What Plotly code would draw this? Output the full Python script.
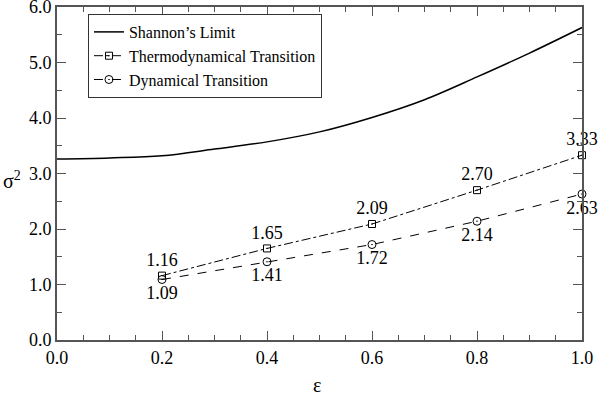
import plotly.graph_objects as go

# Shannon's limit
eps_shannon = [0.0, 0.1, 0.2, 0.3, 0.4, 0.5, 0.6, 0.7, 0.8, 0.9, 1.0]
sigma2_shannon = [3.26, 3.28, 3.32, 3.44, 3.57, 3.75, 4.01, 4.33, 4.74, 5.17, 5.63]

# transitions
eps_pts = [0.2, 0.4, 0.6, 0.8, 1.0]
sigma2_thermo = [1.16, 1.65, 2.09, 2.70, 3.33]
sigma2_dyn = [1.09, 1.41, 1.72, 2.14, 2.63]

serif = "Liberation Serif, Times New Roman, serif"

fig = go.Figure()
fig.add_trace(go.Scatter(
    x=eps_shannon, y=sigma2_shannon, mode="lines", name="Shannon’s Limit",
    line=dict(color="black", width=1.5, shape="spline"),
))
fig.add_trace(go.Scatter(
    x=eps_pts, y=sigma2_thermo, mode="lines+markers+text",
    name="Thermodynamical Transition",
    text=[f"{v:.2f}" for v in sigma2_thermo], textposition="top center",
    textfont=dict(family=serif, size=18, color="black"),
    line=dict(color="black", width=1, dash="dashdot"),
    marker=dict(symbol="square-open-dot", size=7, color="black", line=dict(width=1)),
    cliponaxis=False,
))
fig.add_trace(go.Scatter(
    x=eps_pts, y=sigma2_dyn, mode="lines+markers+text",
    name="Dynamical Transition",
    text=[f"{v:.2f}" for v in sigma2_dyn], textposition="bottom center",
    textfont=dict(family=serif, size=18, color="black"),
    line=dict(color="black", width=1, dash="dash"),
    marker=dict(symbol="circle-open-dot", size=8, color="black", line=dict(width=1)),
    cliponaxis=False,
))

axis_common = dict(
    showline=True, linecolor="#555555", linewidth=2, mirror="allticks",
    ticks="inside", tickcolor="#555555", tickwidth=1, ticklen=9,
    showgrid=False, zeroline=False, tickformat=".1f",
    tickfont=dict(family=serif, size=18, color="black"),
    automargin=False, ticklabeloverflow="allow",
)

fig.update_xaxes(
    range=[0, 1], dtick=0.2,
    minor=dict(ticks="inside", dtick=0.05, ticklen=5, tickcolor="#555555"),
    **axis_common,
)
fig.update_yaxes(
    range=[0, 6], dtick=1,
    minor=dict(ticks="inside", dtick=0.5, ticklen=5, tickcolor="#555555"),
    **axis_common,
)

# axis titles
fig.add_annotation(text="ε", xref="paper", yref="paper", x=0.495, y=-0.135,
                   xanchor="center", yanchor="middle",
                   showarrow=False, font=dict(family=serif, size=20, color="black"))
fig.add_annotation(text="σ<sup>2</sup>", xref="paper", yref="paper", x=-0.085, y=0.48,
                   xanchor="center", yanchor="middle",
                   showarrow=False, font=dict(family=serif, size=20, color="black"))

fig.update_layout(
    width=599, height=394,
    margin=dict(l=57, r=17, t=7, b=54),
    plot_bgcolor="white", paper_bgcolor="white",
    font=dict(family=serif, color="black"),
    showlegend=True,
    legend=dict(
        x=0.059, y=0.979, xanchor="left", yanchor="top",
        bgcolor="white", bordercolor="#333333", borderwidth=1,
        font=dict(family=serif, size=16, color="black"), tracegroupgap=0,
    ),
)

fig.write_html(
    "out.html",
    config={"displayModeBar": False},
    post_script="document.body.style.margin='0';",
)
